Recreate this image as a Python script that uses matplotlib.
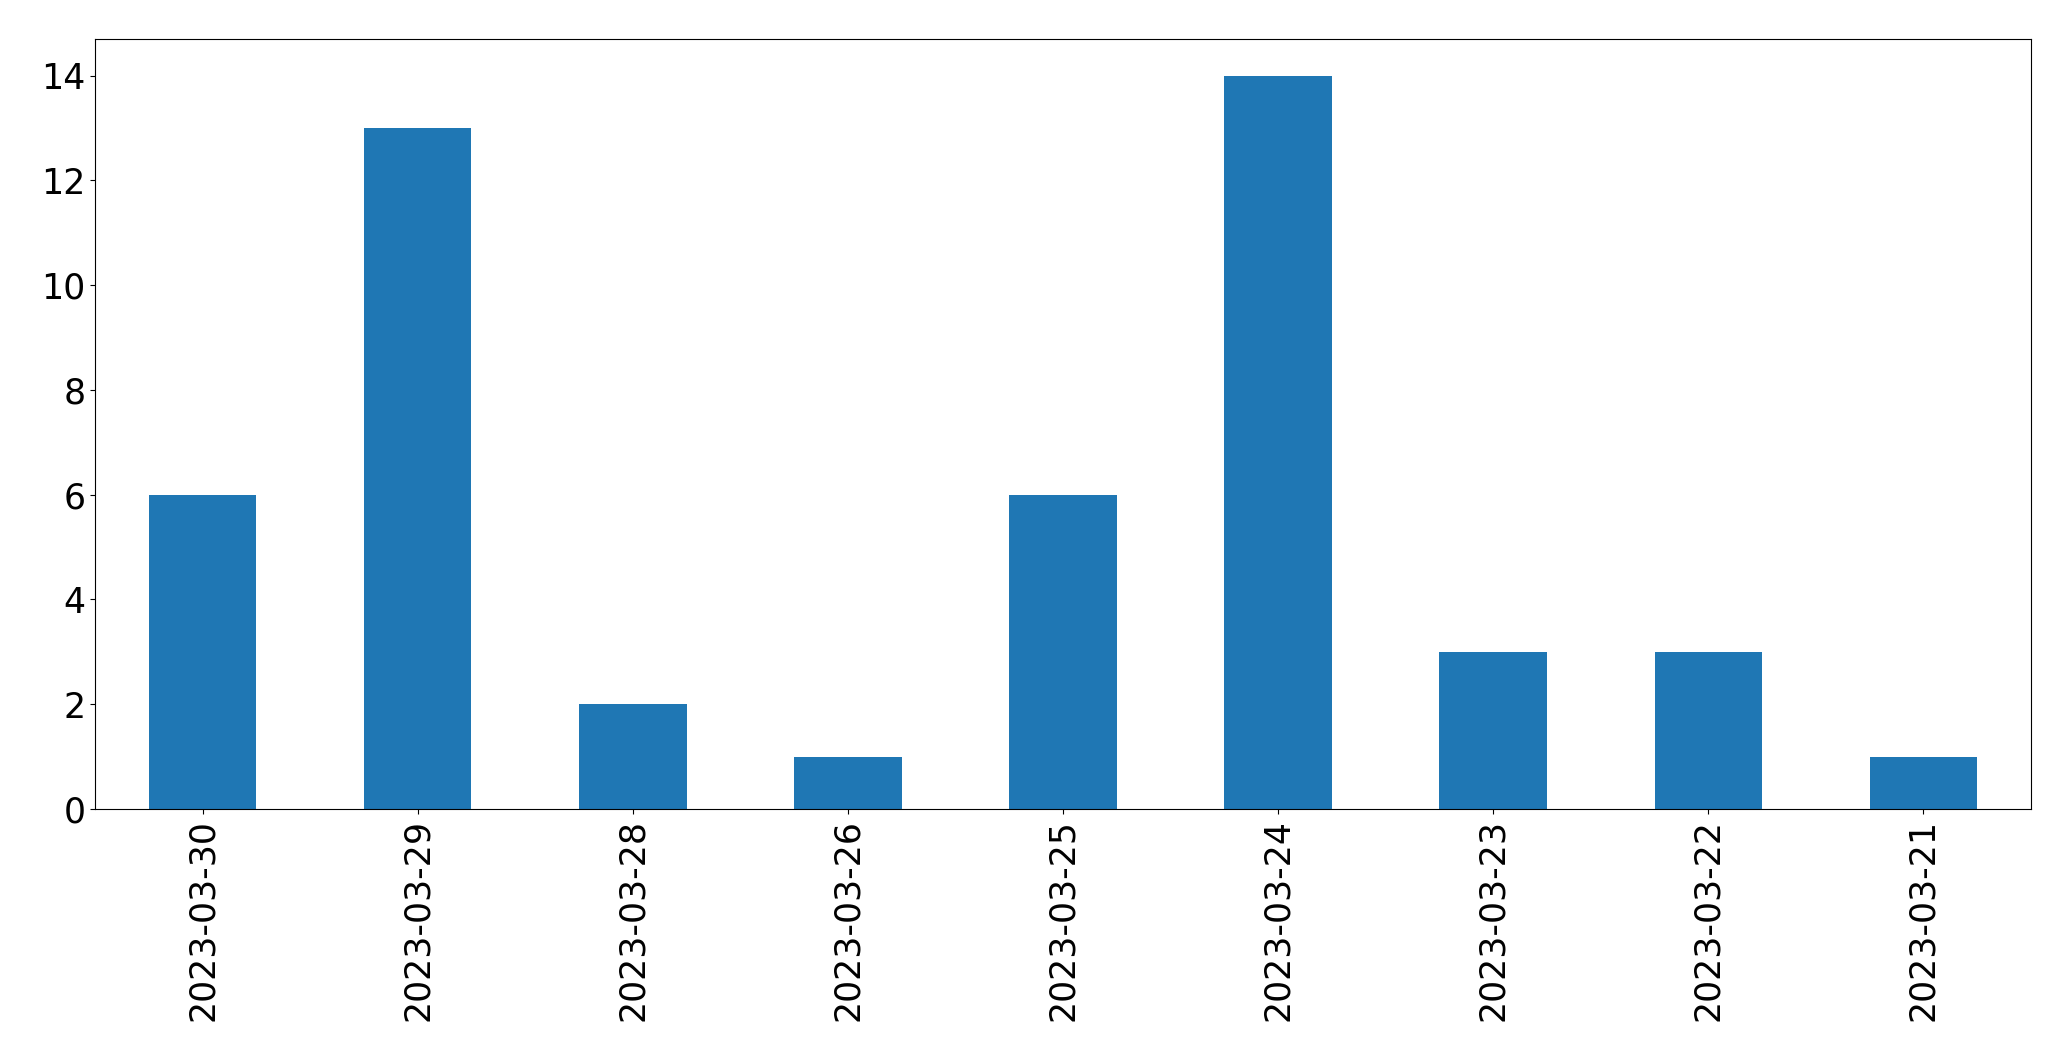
import matplotlib
matplotlib.use("Agg")
from matplotlib import pyplot as plt
import pandas as pd

dates = ["2023-03-30", "2023-03-29", "2023-03-28", "2023-03-26", "2023-03-25",
         "2023-03-24", "2023-03-23", "2023-03-22", "2023-03-21"]
counts = [6, 13, 2, 1, 6, 14, 3, 3, 1]

series = pd.Series(counts, index=dates)

fig = plt.figure(figsize=(20.71, 10.61), dpi=100)
ax = fig.add_axes([95 / 2071, 1 - 809 / 1061, (2031 - 95) / 2071, (809 - 39) / 1061])
series.plot(kind="bar", ax=ax, color="#1f77b4", fontsize=25)
ax.tick_params(axis="both", labelsize=25)

fig.savefig("out.png", dpi=100)
